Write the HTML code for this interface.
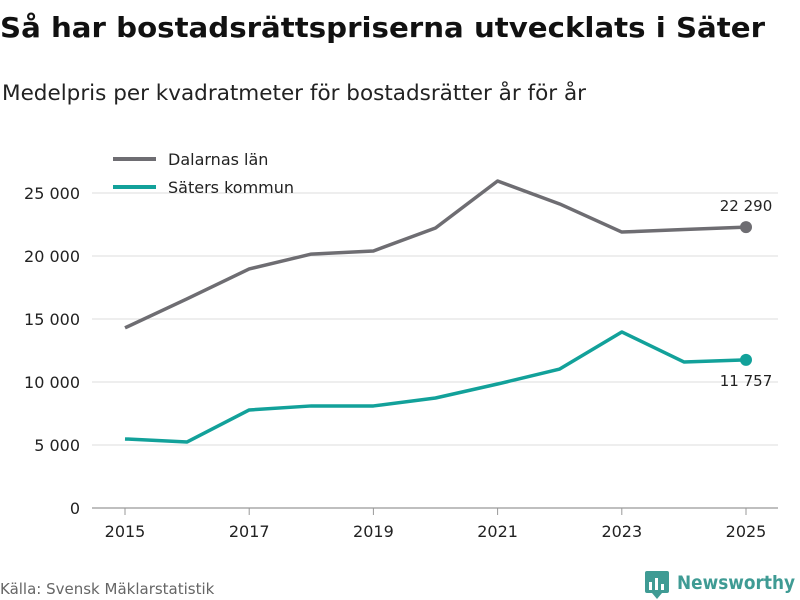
<!DOCTYPE html>
<html><head><meta charset="utf-8">
<style>
body{margin:0;background:#fff;font-family:"DejaVu Sans","Liberation Sans",sans-serif;}
#wrap{position:relative;width:800px;height:600px;overflow:hidden;}
svg text{font-family:"DejaVu Sans","Liberation Sans",sans-serif;}
</style></head>
<body>
<div id="wrap">
<svg id="chart" width="800" height="600" xmlns="http://www.w3.org/2000/svg">
<text x="0" y="37" font-size="28" font-weight="bold" fill="#111" textLength="765" lengthAdjust="spacingAndGlyphs">Så har bostadsrättspriserna utvecklats i Säter</text>
<text x="2" y="100" font-size="21" fill="#222" textLength="584" lengthAdjust="spacingAndGlyphs">Medelpris per kvadratmeter för bostadsrätter år för år</text>
<g id="grid"></g><g id="xticks"></g><g id="lines"></g>
<g>
<line x1="113" y1="159" x2="156" y2="159" stroke="#6e6d72" stroke-width="4"/>
<text x="168" y="165" font-size="16" fill="#222">Dalarnas län</text>
<line x1="113" y1="187" x2="156" y2="187" stroke="#12a19a" stroke-width="4"/>
<text x="168" y="193" font-size="16" fill="#222">Säters kommun</text>
</g>
<text x="0" y="594" font-size="15" fill="#666">Källa: Svensk Mäklarstatistik</text>
<g>
<rect x="645" y="571" width="24" height="22" rx="2" fill="#3f9b94"/>
<polygon points="652,593 662,593 657,599" fill="#3f9b94"/>
<rect x="649" y="582" width="3" height="8" fill="#fff"/><rect x="655" y="578" width="3" height="12" fill="#fff"/><rect x="661" y="584" width="3" height="6" fill="#fff"/>
<text x="677" y="589" font-size="19" font-weight="bold" fill="#3f9b94" textLength="118" lengthAdjust="spacingAndGlyphs">Newsworthy</text>
</g>
</svg>
</div>
<script>
const years=[2015,2016,2017,2018,2019,2020,2021,2022,2023,2024,2025];
const dalarna=[14300,16600,18970,20150,20400,22220,25950,24130,21900,22100,22290];
const sater=[5480,5240,7780,8100,8100,8730,9840,11030,13970,11590,11757];
const yTicks=[0,5000,10000,15000,20000,25000];
const xTicks=[2015,2017,2019,2021,2023,2025];
const NS='http://www.w3.org/2000/svg';
const xs=y=>125+(y-2015)*62.1;
const ys=v=>508-v/25000*315;
const fmt=v=>v===0?'0':String(v).replace(/\B(?=(\d{3})+(?!\d))/g,' ');
function mk(tag,attrs,parent){const e=document.createElementNS(NS,tag);for(const k in attrs)e.setAttribute(k,attrs[k]);parent.appendChild(e);return e;}
const grid=document.getElementById('grid');
yTicks.forEach(t=>{
 const l=mk('line',{x1:92,x2:778,y1:ys(t),y2:ys(t),stroke:t===0?'#999':'#ddd','stroke-width':t===0?1.2:1},grid);
 
 
 const tx=mk('text',{x:80,y:ys(t)+6,'text-anchor':'end','font-size':16,fill:'#222'},grid);
 tx.textContent=fmt(t);
 
 
});
const xg=document.getElementById('xticks');
xTicks.forEach(y=>{
 const l=mk('line',{x1:xs(y),x2:xs(y),y1:508,y2:515,stroke:'#999'},xg);
 
 
 const t=mk('text',{x:xs(y),y:537,'text-anchor':'middle','font-size':16,fill:'#222'},xg);
 t.textContent=y;
 
 
});
const lg=document.getElementById('lines');
function series(vals,color,name,labelDy){
 const p=mk('polyline',{points:vals.map((v,i)=>xs(years[i])+','+ys(v)).join(' '),fill:'none',stroke:color,'stroke-width':3.5,'stroke-linejoin':'round'},lg);
 
 
 const n=vals.length-1;
 const c=mk('circle',{cx:xs(years[n]),cy:ys(vals[n]),r:6,fill:color},lg);
 
 
 const t=mk('text',{x:xs(years[n]),y:ys(vals[n])+labelDy,'text-anchor':'middle','font-size':15,fill:'#222'},lg);
 t.textContent=fmt(vals[n]);
 
 
}
series(dalarna,'#6e6d72','dalarna',-16);
series(sater,'#12a19a','sater',26);
</script>
</body></html>
